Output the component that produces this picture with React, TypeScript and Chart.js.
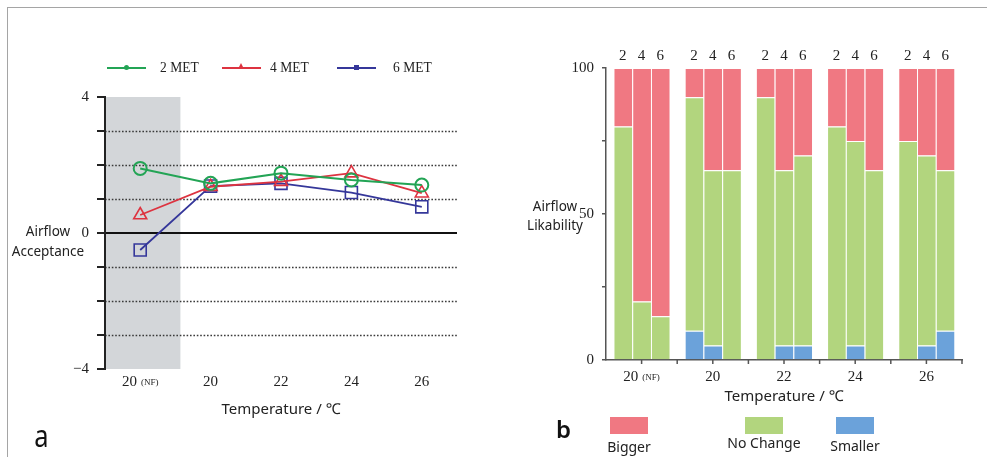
import React, { useEffect, useRef } from 'react';
import { Chart, registerables } from 'chart.js';

Chart.register(...registerables);

// ---------- data ----------
const temps = ['20 (NF)', '20', '22', '24', '26'];
const seriesNames = ['2 MET', '4 MET', '6 MET'];
const met2 = [1.9, 1.46, 1.76, 1.56, 1.41];
const met4 = [0.53, 1.36, 1.51, 1.76, 1.17];
const met6 = [-0.5, 1.38, 1.46, 1.19, 0.77];
const accLabelTicks = [4, 0, -4];

const metLevels = ['2', '4', '6'];
const smaller2 = [0, 10, 0, 0, 0];
const noChange2 = [80, 80, 90, 80, 75];
const bigger2 = [20, 10, 10, 20, 25];
const smaller4 = [0, 5, 5, 5, 5];
const noChange4 = [20, 60, 60, 70, 65];
const bigger4 = [80, 35, 35, 25, 30];
const smaller6 = [0, 0, 5, 0, 10];
const noChange6 = [15, 65, 65, 65, 55];
const bigger6 = [85, 35, 30, 35, 35];
const likLabelTicks = [0, 50, 100];
const likCategories = ['Bigger', 'No Change', 'Smaller'];

// ---------- styles ----------
const serif = '"Liberation Serif", "DejaVu Serif", serif';
const sans = '"Noto Sans", "Open Sans", sans-serif';
const GREEN = '#23A455';
const RED = '#DD3340';
const BLUE = '#35379A';
const BAR_RED = '#F07882';
const BAR_GREEN = '#B2D57E';
const BAR_BLUE = '#6BA2DA';

function makeXLabelPlugin(id: string, offsetY: number, fontSize: number) {
  return {
    id,
    afterDraw(chart: any) {
      const sx = chart.scales.x;
      const ctx = chart.ctx;
      ctx.save();
      ctx.fillStyle = '#222';
      ctx.textBaseline = 'middle';
      ctx.textAlign = 'left';
      const y = chart.chartArea.bottom + offsetY;
      temps.forEach((lab, i) => {
        const x = sx.getPixelForValue(i);
        const parts = lab.split(' ');
        const main = parts[0];
        const sub = parts[1];
        const subSize = Math.round(fontSize * 0.62);
        ctx.font = `${fontSize}px ${serif}`;
        const w1 = ctx.measureText(main).width;
        let w2 = 0;
        if (sub) {
          ctx.font = `${subSize}px ${serif}`;
          w2 = ctx.measureText(sub).width + 4;
        }
        const start = x - (w1 + w2) / 2;
        ctx.font = `${fontSize}px ${serif}`;
        ctx.fillText(main, start, y);
        if (sub) {
          ctx.font = `${subSize}px ${serif}`;
          ctx.fillText(sub, start + w1 + 4, y + 1);
        }
      });
      ctx.restore();
    },
  };
}

const leftBgPlugin = {
  id: 'leftBg',
  beforeDraw(chart: any) {
    const { ctx, chartArea: a, scales } = chart;
    const x = scales.x;
    const y = scales.y;
    ctx.save();
    const x0 = x.getPixelForValue(0);
    const x1 = x.getPixelForValue(1);
    ctx.fillStyle = '#D3D6D9';
    ctx.fillRect(a.left, a.top, (x0 + x1) / 2 + 5 - a.left, a.bottom - a.top);
    ctx.strokeStyle = '#3a3a3a';
    ctx.lineWidth = 1.6;
    ctx.setLineDash([1.6, 1.8]);
    y.ticks.forEach((t: any) => {
      if (t.value === 0 || t.value === y.max || t.value === y.min) return;
      const py = Math.round(y.getPixelForValue(t.value)) + 0.5;
      ctx.beginPath();
      ctx.moveTo(a.left, py);
      ctx.lineTo(a.right, py);
      ctx.stroke();
    });
    ctx.setLineDash([]);
    ctx.strokeStyle = '#111';
    ctx.lineWidth = 2;
    const zy = Math.round(y.getPixelForValue(0));
    ctx.beginPath();
    ctx.moveTo(a.left - 8, zy);
    ctx.lineTo(a.right, zy);
    ctx.stroke();
    ctx.restore();
  },
};

const stackLabelPlugin = {
  id: 'stackLabels',
  afterDatasetsDraw(chart: any) {
    const ctx = chart.ctx;
    ctx.save();
    ctx.font = `15px ${serif}`;
    ctx.fillStyle = '#222';
    ctx.textAlign = 'center';
    ctx.textBaseline = 'middle';
    chart.data.datasets.forEach((ds: any, di: number) => {
      if (ds.label !== 'Bigger') return;
      const meta = chart.getDatasetMeta(di);
      meta.data.forEach((bar: any) => {
        ctx.fillText(ds.stack, bar.x, chart.chartArea.top - 12);
      });
    });
    ctx.restore();
  },
};

const xTickMarksPlugin = {
  id: 'xTickMarks',
  afterDraw(chart: any) {
    const ctx = chart.ctx;
    const sx = chart.scales.x;
    const b = chart.chartArea.bottom;
    ctx.save();
    ctx.strokeStyle = '#555';
    ctx.lineWidth = 1.5;
    const half = (sx.getPixelForValue(1) - sx.getPixelForValue(0)) / 2;
    temps.forEach((_, i) => {
      const c = sx.getPixelForValue(i);
      [c, c + half].forEach((px) => {
        ctx.beginPath();
        ctx.moveTo(px, b);
        ctx.lineTo(px, b + 4);
        ctx.stroke();
      });
    });
    ctx.restore();
  },
};

function LeftChart() {
  const ref = useRef<HTMLCanvasElement | null>(null);
  useEffect(() => {
    const chart = new Chart(ref.current as HTMLCanvasElement, {
      type: 'line',
      data: {
        labels: temps,
        datasets: [
          {
            label: seriesNames[0], data: met2, borderColor: GREEN, borderWidth: 2,
            pointStyle: 'circle', pointRadius: 6.5, pointBorderWidth: 2,
            pointBackgroundColor: 'rgba(0,0,0,0)', pointBorderColor: GREEN,
          },
          {
            label: seriesNames[1], data: met4, borderColor: RED, borderWidth: 1.8,
            pointStyle: 'triangle', pointRadius: 7.5, pointBorderWidth: 1.6,
            pointBackgroundColor: 'rgba(0,0,0,0)', pointBorderColor: RED,
          },
          {
            label: seriesNames[2], data: met6, borderColor: BLUE, borderWidth: 1.8,
            pointStyle: 'rect', pointRadius: 8.5, pointBorderWidth: 1.6,
            pointBackgroundColor: 'rgba(0,0,0,0)', pointBorderColor: BLUE,
          },
        ],
      } as any,
      options: {
        animation: false,
        responsive: false,
        devicePixelRatio: 1,
        layout: { padding: { left: 0, right: 23, top: 97, bottom: 38 } },
        plugins: { legend: { display: false }, tooltip: { enabled: false } },
        scales: {
          x: {
            type: 'category',
            offset: true,
            grid: { display: false },
            border: { display: false },
            ticks: { display: false },
            title: {
              display: true, text: 'Temperature / ℃', color: '#222',
              font: { family: sans, size: 15 }, padding: 0,
            },
            afterFit: (s: any) => { s.height = 50; },
          },
          y: {
            min: -4, max: 4,
            grid: { display: true, drawOnChartArea: false, drawTicks: true, tickLength: 8, color: '#222', lineWidth: 2 },
            border: { display: true, color: '#222', width: 2 },
            ticks: {
              stepSize: 1, color: '#222', padding: 8,
              font: { family: serif, size: 15 },
              callback: (v: any) => (accLabelTicks.includes(v) ? (v < 0 ? '−' + Math.abs(v) : String(v)) : ''),
            },
            afterFit: (s: any) => { s.width = 105; },
          },
        },
      } as any,
      plugins: [leftBgPlugin, makeXLabelPlugin('xlabA', 13, 15)],
    });
    return () => chart.destroy();
  }, []);
  return <canvas ref={ref} width={480} height={457} />;
}

function RightChart() {
  const ref = useRef<HTMLCanvasElement | null>(null);
  useEffect(() => {
    const groups = [
      [smaller2, noChange2, bigger2],
      [smaller4, noChange4, bigger4],
      [smaller6, noChange6, bigger6],
    ];
    const labelsBottomUp = ['Smaller', 'No Change', 'Bigger'];
    const colors = [BAR_BLUE, BAR_GREEN, BAR_RED];
    const datasets: any[] = [];
    groups.forEach((g, gi) => {
      g.forEach((vals, k) => {
        datasets.push({
          label: labelsBottomUp[k],
          data: vals,
          stack: metLevels[gi],
          backgroundColor: colors[k],
          borderColor: 'rgba(255,255,255,0.85)',
          borderWidth: { top: 1, left: 1, right: 0, bottom: 0 },
          borderSkipped: false,
          categoryPercentage: 0.79,
          barPercentage: 1.0,
        });
      });
    });
    const chart = new Chart(ref.current as HTMLCanvasElement, {
      type: 'bar',
      data: { labels: temps, datasets },
      options: {
        animation: false,
        responsive: false,
        devicePixelRatio: 1,
        layout: { padding: { left: 0, right: 25, top: 68, bottom: 51 } },
        plugins: { legend: { display: false }, tooltip: { enabled: false } },
        scales: {
          x: {
            offset: true,
            grid: { display: false },
            border: { display: true, color: '#555', width: 1.5 },
            ticks: { display: false },
            title: {
              display: true, text: 'Temperature / ℃', color: '#222',
              font: { family: sans, size: 15 }, padding: 0,
            },
            afterFit: (s: any) => { s.height = 46; },
          },
          y: {
            stacked: true,
            min: 0, max: 100,
            grid: { display: true, drawOnChartArea: false, drawTicks: true, tickLength: 4, color: '#555', lineWidth: 1.5 },
            border: { display: true, color: '#555', width: 1.5 },
            ticks: {
              stepSize: 25, color: '#222', padding: 8,
              font: { family: serif, size: 15 },
              callback: (v: any) => (likLabelTicks.includes(v) ? String(v) : ''),
            },
            afterFit: (s: any) => { s.width = 116; },
          },
        },
      } as any,
      plugins: [stackLabelPlugin, xTickMarksPlugin, makeXLabelPlugin('xlabB', 17, 15)],
    });
    return () => chart.destroy();
  }, []);
  return <canvas ref={ref} width={497} height={457} />;
}

function LegendMarker({ color, kind }: { color: string; kind: string }) {
  let marker: any = null;
  if (kind === 'circle') {
    marker = <div style={{ position: 'absolute', left: 17, top: -2, width: 5, height: 5, borderRadius: 3, background: color }} />;
  } else if (kind === 'triangle') {
    marker = <div style={{ position: 'absolute', left: 16, top: -4, width: 0, height: 0, borderLeft: '3.5px solid transparent', borderRight: '3.5px solid transparent', borderBottom: `6px solid ${color}` }} />;
  } else {
    marker = <div style={{ position: 'absolute', left: 17, top: -2, width: 5, height: 5, background: color }} />;
  }
  return (
    <div style={{ position: 'relative', width: 39, height: 2, background: color }}>
      {marker}
    </div>
  );
}

export default function App() {
  const legendA = [
    { name: seriesNames[0], color: GREEN, kind: 'circle', lineX: 107, textX: 160 },
    { name: seriesNames[1], color: RED, kind: 'triangle', lineX: 222, textX: 270 },
    { name: seriesNames[2], color: BLUE, kind: 'rect', lineX: 337, textX: 393 },
  ];
  const legendB = [
    { name: likCategories[0], color: BAR_RED, boxX: 610, textY: 447 },
    { name: likCategories[1], color: BAR_GREEN, boxX: 745, textY: 443 },
    { name: likCategories[2], color: BAR_BLUE, boxX: 836, textY: 446 },
  ];
  return (
    <div style={{ position: 'absolute', left: 0, top: 0, width: 987, height: 457, background: '#fff', overflow: 'hidden' }}>
      <div style={{ position: 'absolute', left: 7, top: 7, width: 980, height: 450, borderTop: '1.5px solid #A5A5A5', borderLeft: '1.5px solid #A5A5A5' }} />
      <div style={{ position: 'absolute', left: 0, top: 0 }}>
        <LeftChart />
      </div>
      <div style={{ position: 'absolute', left: 490, top: 0 }}>
        <RightChart />
      </div>
      {legendA.map((l) => (
        <React.Fragment key={l.name}>
          <div style={{ position: 'absolute', left: l.lineX, top: 67 }}>
            <LegendMarker color={l.color} kind={l.kind} />
          </div>
          <div style={{ position: 'absolute', left: l.textX, top: 58, font: `15px ${serif}`, color: '#222', lineHeight: '18px', whiteSpace: 'nowrap', transform: 'scaleX(0.9)', transformOrigin: 'left center' }}>{l.name}</div>
        </React.Fragment>
      ))}
      <div style={{ position: 'absolute', left: 0, top: 221, width: 96, textAlign: 'center', font: `13.5px ${sans}`, color: '#222', lineHeight: '20px' }}>
        Airflow<br />Acceptance
      </div>
      <div style={{ position: 'absolute', left: 505, top: 197, width: 100, textAlign: 'center', font: `13.5px ${sans}`, color: '#222', lineHeight: '19px' }}>
        Airflow<br />Likability
      </div>
      <div style={{ position: 'absolute', left: 33, top: 418, font: `30px ${sans}`, color: '#111', lineHeight: '36px', transform: 'scaleX(0.85)' }}>a</div>
      <div style={{ position: 'absolute', left: 556, top: 414, font: `600 24px ${sans}`, color: '#111', lineHeight: '30px' }}>b</div>
      {legendB.map((l) => (
        <React.Fragment key={l.name}>
          <div style={{ position: 'absolute', left: l.boxX, top: 417, width: 38, height: 17, background: l.color }} />
          <div style={{ position: 'absolute', left: l.boxX - 40, top: l.textY - 10, width: 118, textAlign: 'center', font: `14px ${sans}`, color: '#222', lineHeight: '20px', whiteSpace: 'nowrap' }}>{l.name}</div>
        </React.Fragment>
      ))}
    </div>
  );
}
